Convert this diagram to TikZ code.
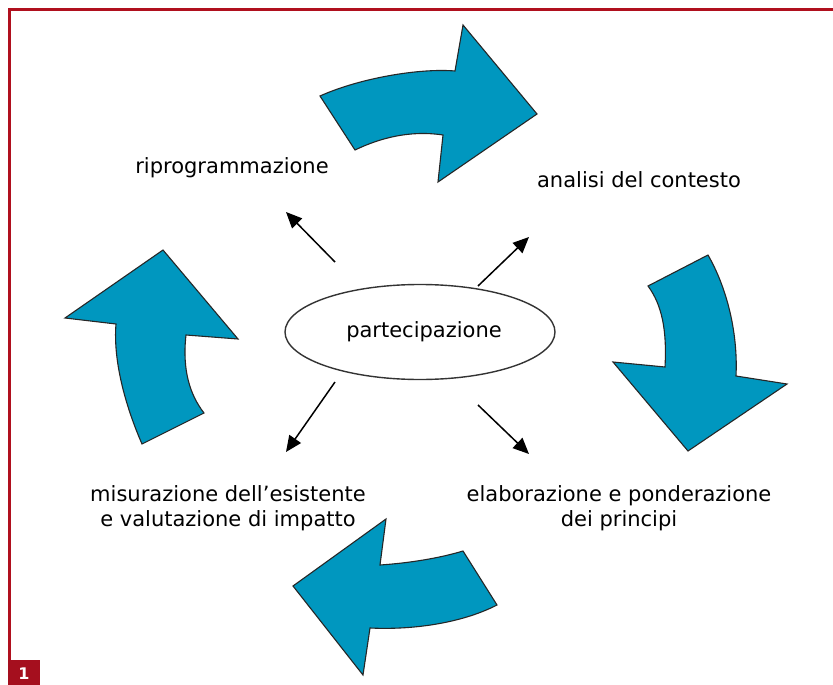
\documentclass[tikz,border=0pt]{standalone}
\usepackage{fontspec}
\setmainfont{DejaVu Sans}
\usetikzlibrary{arrows.meta}
\definecolor{teal1}{HTML}{0097BF}
\definecolor{frame}{HTML}{B0101E}
\definecolor{boxred}{HTML}{A50F1E}
\begin{document}
\begin{tikzpicture}[x=1pt,y=-1pt,
  bigarrow/.style={fill=teal1,draw=black!85,line width=1.1pt,line join=miter},
  lbl/.style={font=\fontsize{21}{25}\selectfont,align=center,inner sep=0pt},
  ptr/.style={line width=1.5pt,-{Triangle[length=16pt,width=14pt]}}]
\useasboundingbox (0,0) rectangle (833,685);
\fill[white] (0,0) rectangle (833,685);
% frame
\draw[frame,line width=2.5pt] (9.5,660) -- (9.5,9.5) -- (833,9.5);
\fill[boxred] (8,660) rectangle (40,685);
\node[text=white,font=\bfseries\fontsize{16}{18}\selectfont] (num) at (24,674) {1};
% big arrows
\path[bigarrow] (320,96) .. controls (360,78) and (420,68) .. (455,71) -- (463,25) -- (537,114) -- (438,182) -- (443,135) .. controls (410,130) and (380,138) .. (355,150) -- cycle;
\path[bigarrow] (648,286) -- (708,255) .. controls (728,290) and (738,335) .. (736,376) -- (787,384) -- (688,451) -- (613,362) -- (665,367) .. controls (667,330) and (662,305) .. (648,286) -- cycle;
\path[bigarrow] (463,551) -- (497,605) .. controls (460,624) and (410,630) .. (370,628) -- (363,675) -- (293,586) -- (386,519) -- (380,565) .. controls (410,563) and (440,558) .. (463,551) -- cycle;
\path[bigarrow] (163,250) -- (238,339) -- (186,335) .. controls (182,370) and (190,395) .. (204,413) -- (142,444) .. controls (125,405) and (113,360) .. (116,324) -- (65,318) -- cycle;
% ellipse
\draw[line width=1.4pt,black!80] (420,332) ellipse [x radius=135, y radius=47.5];
\node[lbl] (part) at (424,332) {partecipazione};
% labels
\node[lbl] (rip) at (232,168) {riprogrammazione};
\node[lbl] (ana) at (639,180) {analisi del contesto};
\node[lbl] (mis) at (228,508) {misurazione dell’esistente\\e valutazione di impatto};
\node[lbl] (ela) at (619,508) {elaborazione e ponderazione\\dei principi};
% small arrows
\coordinate (s1) at (335,262); \coordinate (t1) at (286,212);
\coordinate (s2) at (478,286); \coordinate (t2) at (529,237);
\coordinate (s3) at (335,382); \coordinate (t3) at (286,452);
\coordinate (s4) at (478,405); \coordinate (t4) at (529,454);
\draw[ptr] (s1) -- (t1);
\draw[ptr] (s2) -- (t2);
\draw[ptr] (s3) -- (t3);
\draw[ptr] (s4) -- (t4);
\end{tikzpicture}
\end{document}
